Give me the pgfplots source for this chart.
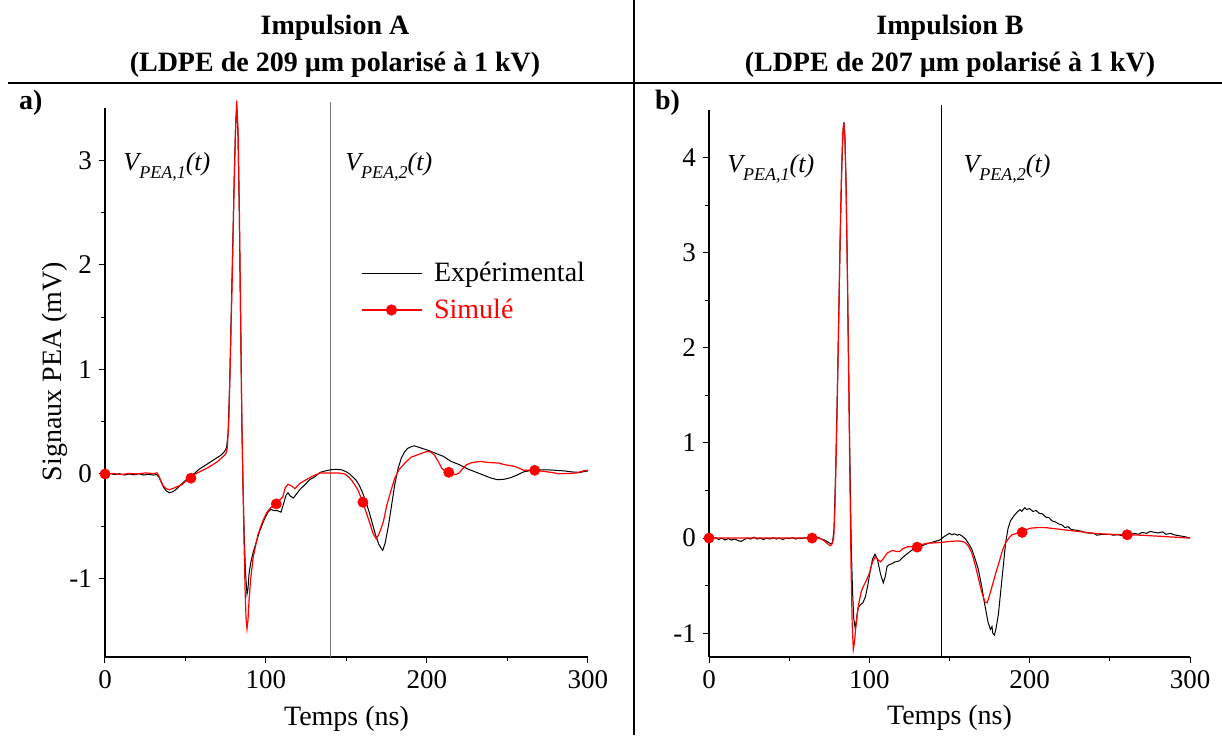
\documentclass[border=0pt]{standalone}
\usepackage{fontspec}
\setmainfont{Liberation Serif}
\usepackage{pgfplots}
\pgfplotsset{compat=1.18}

\newcommand{\vpea}[1]{\fontsize{13}{15}\selectfont\itshape V\raisebox{-0.3em}{\fontsize{9}{10}\selectfont PEA,#1}(t)}

\pgfplotsset{
  base/.style={
    scale only axis, anchor=south west,
    xmin=0, xmax=300,
    axis x line*=bottom, axis y line*=left,
    every non boxed x axis/.append style={x axis line style={-, black}},
    every non boxed y axis/.append style={y axis line style={-, black!65}},
    axis line style={line width=0.6pt},
    tick align=outside,
    xtick={0,100,200,300}, minor x tick num=1, minor y tick num=1,
    major tick length=3pt, minor tick length=2pt,
    tick style={black, line width=0.5pt},
    /pgf/number format/assume math mode=true,
    tick label style={font=\fontsize{13.5}{15}\selectfont},
    xlabel={Temps (ns)},
    every axis x label/.style={at={(axis description cs:0.5,-0.124)}, anchor=base, font=\fontsize{14}{16}\selectfont},
    every axis y label/.style={at={(axis description cs:-0.1035,0.52)}, anchor=center, rotate=90, font=\fontsize{14}{16}\selectfont},
    clip=false,
  },
  expc/.style={black, line width=0.5pt},
  simc/.style={red, line width=0.6pt},
  dots/.style={only marks, mark=*, mark size=2.5pt, red, forget plot},
}

\begin{document}
\begin{tikzpicture}
\useasboundingbox (0,0) rectangle (611pt,367.5pt);

% ---------------- Panel A ----------------
\begin{axis}[base, at={(52.5pt,39pt)}, width=241.5pt, height=274.5pt,
  ymin=-1.75, ymax=3.5, ytick={-1,0,1,2,3},
  ylabel={Signaux PEA (mV)},
  legend style={draw=none, fill=none, at={(0.529,0.727)}, anchor=north west,
    font=\fontsize{14}{16}\selectfont, row sep=3pt, inner sep=0pt,
    /tikz/every odd column/.append style={column sep=4pt}},
  legend cell align=left,
]
\addplot[black!55, line width=0.8pt, forget plot] coordinates {(140,-1.75) (140,3.56)};
\addplot[expc, legend image code/.code={\draw[black, line width=0.5pt] (0pt,0pt) -- (30pt,0pt);}] coordinates {
(0,0) (3,0.005) (6,-0.005) (9,0.003) (12,-0.01) (15,0.0) (18,-0.008) (21,0.002) (24,-0.01) (27,-0.003) (30,-0.01) (32,-0.005)
(33.5,-0.03) (35,-0.08) (36.5,-0.13) (38,-0.16) (40,-0.18) (42,-0.17) (44,-0.15) (46,-0.12) (48,-0.09) (50,-0.06) (52,-0.04)
(54,-0.01) (56,0.01) (58,0.04) (60,0.06) (62,0.08) (64,0.1) (66,0.12) (68,0.14) (70,0.16) (72,0.18) (74,0.21) (75.5,0.25)
(76.5,0.4) (77.5,0.9) (78.5,1.6) (79.5,2.3) (80.5,3.0) (81.3,3.4) (81.9,3.5) (82.6,3.25) (83.4,2.5) (84.2,1.5) (85,0.5)
(85.7,-0.1) (86.5,-0.6) (87.3,-0.95) (88.2,-1.15) (88.8,-1.1) (89.5,-0.95) (90.5,-0.85) (92,-0.75) (94,-0.65) (96,-0.55)
(98,-0.47) (100,-0.4) (101.5,-0.36) (103,-0.34) (105,-0.35) (107,-0.35) (109.3,-0.365) (111,-0.28) (112.5,-0.2) (113.7,-0.18)
(115,-0.21) (117,-0.23) (119,-0.19) (121,-0.15) (123,-0.12) (125,-0.09) (127,-0.055) (130,-0.03) (133.7,0.016) (137,0.03)
(140,0.04) (143,0.045) (147,0.04) (150,0.02) (152,0.0) (154,-0.03) (156,-0.06) (158,-0.11) (160,-0.18) (162,-0.26) (164,-0.36)
(166,-0.47) (168,-0.58) (170,-0.67) (171.5,-0.71) (172.5,-0.73) (174,-0.66) (176,-0.5) (178,-0.3) (180,-0.1) (182,0.05)
(184,0.15) (186,0.21) (188,0.245) (190,0.26) (192,0.27) (195,0.255) (198,0.24) (201,0.225) (205,0.2) (210,0.17) (215,0.12)
(220,0.09) (225,0.05) (230,0.02) (235,-0.01) (240,-0.04) (244,-0.055) (248,-0.05) (252,-0.035) (256,-0.01) (260,0.02)
(265,0.035) (270,0.04) (275,0.04) (280,0.035) (285,0.03) (290,0.02) (295,0.015) (300,0.03)};
\addlegendentry{Expérimental}
\addplot[simc, legend image code/.code={\draw[red, line width=0.6pt] (0pt,0pt) -- (30pt,0pt); \fill[red] (15pt,0pt) circle (2.5pt);}] coordinates {
(0,0) (5,0.005) (10,-0.005) (15,0.005) (20,0) (25,0.01) (30,0.005) (32.5,0.01) (34,-0.04) (36,-0.11) (38,-0.14) (40,-0.15)
(42,-0.14) (45,-0.12) (48,-0.1) (50,-0.07) (53.4,-0.04) (56,0) (60,0.03) (65,0.07) (70,0.12) (75,0.19) (76,0.25) (77,0.55)
(78,1.2) (79,1.85) (80,2.6) (81,3.25) (81.8,3.57) (82.6,3.3) (83.4,2.6) (84.2,1.6) (85,0.5) (85.6,0) (86.3,-0.6) (87,-1.1)
(87.6,-1.38) (88.2,-1.48) (88.8,-1.4) (89.5,-1.2) (90.5,-1.0) (92,-0.8) (95,-0.58) (98,-0.45) (100.4,-0.37) (103,-0.32)
(106.4,-0.286) (108.5,-0.25) (110.4,-0.22) (112,-0.13) (113.7,-0.10) (115.5,-0.11) (118,-0.14) (121,-0.09) (125,-0.054)
(129,-0.02) (133.7,0.01) (140,0.01) (145,0.01) (149,0) (151.5,-0.03) (153.7,-0.07) (157,-0.15) (160.2,-0.27) (162.5,-0.38)
(164.7,-0.48) (166.5,-0.57) (168.5,-0.62) (170,-0.58) (171.5,-0.52) (173,-0.45) (175,-0.3) (178,-0.14) (180,-0.04)
(182.5,0.04) (186,0.1) (190,0.16) (193.6,0.18) (197,0.2) (200,0.216) (202.5,0.21) (204.6,0.18) (207,0.12) (209,0.06)
(211,0.03) (213.5,0.016) (216,0) (218,-0.005) (220,0.01) (222,0.05) (224.6,0.089) (228,0.11) (233.5,0.12) (238,0.11)
(244.6,0.105) (248,0.09) (252,0.08) (255.6,0.067) (258,0.05) (260,0.035) (266.9,0.035) (270,0.03) (275,0.02) (282,0.003)
(288,0.005) (293,0.01) (297,0.03) (300,0.035)};
\addlegendentry{\textcolor{red}{Simulé}}
\addplot[dots] coordinates {(0,0) (53.4,-0.04) (106.4,-0.286) (160.2,-0.27) (213.5,0.016) (266.9,0.035)};
\node[anchor=base west, inner sep=0pt] at (axis cs:11.2,2.9) {\vpea{1}};
\node[anchor=base west, inner sep=0pt] at (axis cs:149,2.9) {\vpea{2}};
\end{axis}

% ---------------- Panel B ----------------
\begin{axis}[base, at={(354.5pt,39pt)}, width=240.5pt, height=273.5pt,
  ymin=-1.25, ymax=4.5, ytick={-1,0,1,2,3,4},
]
\addplot[black, line width=0.6pt, forget plot] coordinates {(145,-1.25) (145,4.55)};
\addplot[expc] coordinates {
(0,0) (2,-0.01) (4,0.005) (6,-0.015) (8,0.0) (10,-0.02) (12,-0.005) (14,-0.02) (16,-0.01) (18,-0.025) (20,-0.035) (22,-0.015)
(24,0.0) (26,-0.01) (28,0.01) (30,-0.01) (32,0.0) (34,-0.015) (36,0.0) (38,-0.01) (40,0.005) (42,-0.01) (44,0.0) (46,-0.015)
(48,0.0) (50,-0.005) (52,0.005) (54,-0.01) (56,0.0) (58,-0.005) (60,0.005) (62,-0.01) (64,0.005) (66,0.0) (68,0.01) (70,-0.01)
(72,-0.02) (74,-0.04) (76,-0.06) (77,-0.05) (78,0.1) (79,0.7) (80,1.5) (81,2.4) (82,3.3) (83,4.0) (83.7,4.3) (84.2,4.37)
(84.8,4.2) (85.5,3.7) (86.3,2.8) (87.1,1.8) (87.9,0.8) (88.7,-0.05) (89.5,-0.55) (90.3,-0.85) (91.2,-0.95) (92,-0.85)
(93,-0.73) (94.5,-0.70) (96,-0.68) (97.5,-0.62) (99,-0.5) (100.5,-0.35) (102,-0.22) (103.5,-0.17) (105,-0.22) (107,-0.38)
(108.7,-0.47) (110,-0.4) (111,-0.3) (112.3,-0.28) (114,-0.27) (116,-0.25) (118.7,-0.24) (121,-0.2) (124,-0.16) (127,-0.12)
(130,-0.1) (133,-0.08) (136,-0.06) (140,-0.04) (144,-0.02) (147,0.02) (150,0.05) (151.5,0.035) (153,0.045) (155,0.03) (156,0.04) (158,0.02) (160,-0.01)
(162,-0.06) (164,-0.12) (166,-0.22) (168,-0.33) (170,-0.5) (172,-0.7) (174,-0.88) (175.5,-0.96) (176.5,-0.93) (177,-1.0) (178,-1.02)
(179,-0.95) (180.5,-0.8) (182,-0.55) (183.5,-0.3) (185,-0.05) (186.5,0.1) (188,0.18) (190,0.23) (192,0.27) (194,0.3) (195,0.28)
(197,0.32) (198,0.3) (200,0.31) (202,0.28) (204,0.29) (206,0.26) (208,0.255) (210,0.22) (212,0.215) (214,0.18) (216,0.17) (218,0.15) (220,0.14) (222,0.11) (224,0.12) (226,0.09) (230,0.08) (233,0.07) (235,0.055)
(240,0.05) (242,0.03) (245,0.04) (250,0.04) (252,0.03) (255,0.035) (258,0.025) (260,0.04) (263,0.035) (265,0.05) (268,0.04) (270,0.06) (273,0.05) (275,0.07) (278,0.06) (280,0.055) (283,0.065) (285,0.04) (288,0.05) (290,0.035)
(293,0.025) (295,0.02) (298,0.01) (300,0)};
\addplot[simc] coordinates {
(0,0) (10,0) (20,0) (30,0) (40,0) (50,0) (60,0) (64.3,0) (68,0) (70,-0.01) (72,-0.03) (74,-0.06) (75.5,-0.08) (76.5,-0.07)
(77.8,0.0) (78.5,0.3) (79.5,1.0) (80.5,1.9) (81.5,2.9) (82.5,3.75) (83.4,4.25) (84.1,4.37) (84.8,4.2) (85.5,3.7) (86.3,2.8)
(87.1,1.7) (87.9,0.6) (88.6,-0.3) (89.3,-0.9) (90,-1.17) (90.7,-1.1) (91.5,-0.95) (92.5,-0.8) (93.5,-0.68) (95,-0.56)
(96.5,-0.5) (98,-0.45) (100,-0.37) (102,-0.25) (103.7,-0.2) (105.5,-0.23) (107,-0.25) (109,-0.21) (111,-0.16) (113,-0.14)
(114.5,-0.13) (117,-0.14) (119,-0.14) (121,-0.11) (124,-0.09) (127,-0.09) (129.8,-0.095) (132,-0.07) (136,-0.055) (140,-0.05)
(145,-0.045) (150,-0.035) (155,-0.03) (158,-0.035) (160,-0.05) (162,-0.09) (164,-0.16) (166,-0.28) (168,-0.42) (170,-0.56)
(172,-0.67) (173.5,-0.68) (175,-0.6) (177,-0.48) (179,-0.36) (181,-0.25) (183,-0.13) (185,-0.05) (187,0.0) (189,0.035)
(192,0.05) (195.3,0.06) (198,0.09) (201,0.105) (205,0.11) (210,0.11) (215,0.1) (220,0.09) (230,0.07) (240,0.05) (250,0.04)
(260.8,0.035) (270,0.03) (280,0.02) (290,0.01) (300,0)};
\addplot[dots] coordinates {(0,0) (64.3,0) (129.8,-0.095) (195.3,0.06) (260.8,0.035)};
\node[anchor=base west, inner sep=0pt] at (axis cs:11.2,3.84) {\vpea{1}};
\node[anchor=base west, inner sep=0pt] at (axis cs:158.5,3.84) {\vpea{2}};
\end{axis}

% ---------------- Frame and titles ----------------
\draw[line width=1pt] (4pt,326pt) -- (611pt,326pt);
\draw[line width=0.75pt] (317pt,0pt) -- (317pt,367.5pt);
\node[font=\fontsize{14}{16}\selectfont\bfseries] at (167.5pt,353.5pt) {Impulsion A};
\node[font=\fontsize{14}{16}\selectfont\bfseries] at (167.5pt,335pt) {(LDPE de 209 µm polarisé à 1 kV)};
\node[font=\fontsize{14}{16}\selectfont\bfseries] at (475pt,353.5pt) {Impulsion B};
\node[font=\fontsize{14}{16}\selectfont\bfseries] at (475pt,335pt) {(LDPE de 207 µm polarisé à 1 kV)};
\node[font=\fontsize{14}{16}\selectfont\bfseries, anchor=west] at (6pt,316pt) {a)};
\node[font=\fontsize{14}{16}\selectfont\bfseries, anchor=west] at (324pt,316pt) {b)};
\end{tikzpicture}
\end{document}
